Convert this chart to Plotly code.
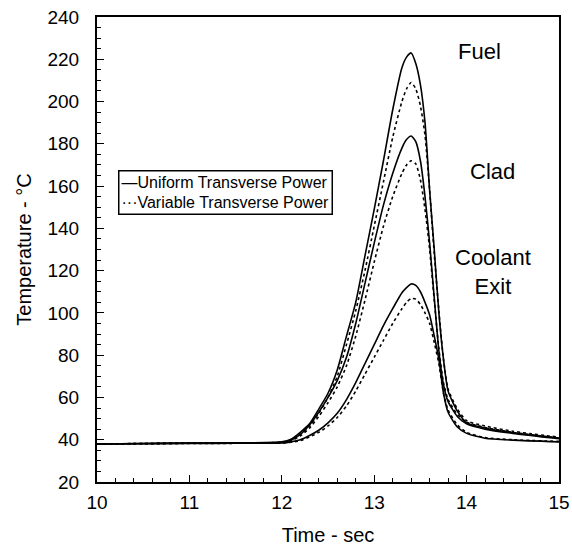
import plotly.graph_objects as go

time = [10.0, 10.5, 11.0, 11.5, 12.0, 12.1, 12.2, 12.3, 12.4, 12.5, 12.6, 12.7, 12.8, 12.9,
        13.0, 13.1, 13.2, 13.3, 13.35, 13.4, 13.45, 13.5, 13.55, 13.6, 13.65, 13.7, 13.75,
        13.8, 13.9, 14.0, 14.2, 14.5, 15.0]

fuel_uniform = [38.0, 38.2, 38.4, 38.5, 39.0, 40.2, 43.5, 47.5, 54.5, 62.0, 73.0, 89.0, 105.0, 127.0,
                149.0, 172.0, 196.0, 216.0, 221.0, 223.0, 218.0, 208.0, 190.0, 158.0, 130.0, 100.0, 78.0,
                63.0, 53.5, 48.0, 45.5, 43.3, 40.8]
fuel_variable = [38.0, 38.2, 38.4, 38.5, 38.8, 39.8, 42.5, 46.5, 52.5, 60.0, 70.0, 85.0, 101.0, 120.0,
                 141.0, 162.0, 183.0, 200.0, 206.0, 209.0, 206.0, 198.0, 184.0, 158.0, 128.0, 101.0, 78.0,
                 64.0, 54.5, 49.0, 46.5, 44.0, 41.2]
clad_uniform = [38.0, 38.2, 38.4, 38.5, 38.8, 39.8, 42.5, 47.0, 53.0, 60.0, 68.0, 79.0, 95.0, 114.0,
                133.0, 151.0, 166.0, 178.0, 182.0, 183.7, 181.0, 172.0, 155.0, 133.0, 107.0, 82.0, 66.0,
                58.0, 51.0, 47.5, 45.0, 43.0, 40.5]
clad_variable = [38.0, 38.2, 38.4, 38.5, 38.7, 39.5, 41.8, 45.5, 51.0, 57.5, 65.0, 75.0, 89.0, 106.0,
                 124.0, 141.0, 155.0, 166.0, 170.0, 172.0, 170.5, 163.0, 149.0, 130.0, 106.0, 83.0, 67.0,
                 59.0, 52.0, 48.3, 45.8, 43.5, 40.8]
coolant_uniform = [38.0, 38.1, 38.2, 38.3, 38.5, 39.0, 40.0, 42.0, 44.5, 48.0, 52.5, 59.0, 67.0, 76.0,
                   85.0, 94.0, 102.0, 109.5, 112.0, 113.7, 113.0, 110.0, 105.0, 99.0, 89.0, 78.0, 62.0,
                   53.0, 46.0, 43.0, 40.7, 39.8, 39.0]
coolant_variable = [38.0, 38.1, 38.2, 38.3, 38.4, 38.8, 39.6, 41.3, 43.5, 46.5, 50.5, 56.0, 63.0, 71.0,
                    79.0, 87.0, 95.0, 102.0, 105.0, 106.8, 106.5, 104.0, 100.0, 95.0, 86.0, 76.0, 62.0,
                    54.0, 47.0, 43.5, 41.0, 40.0, 39.2]

x_ticks = [10, 11, 12, 13, 14, 15]
y_ticks = [20, 40, 60, 80, 100, 120, 140, 160, 180, 200, 220, 240]

labels = [("Fuel", 14.14, 223.7), ("Clad", 14.28, 167.1), ("Coolant<br>Exit", 14.286, 119.5)]
legend_lines = ["—Uniform Transverse Power", "···Variable Transverse Power"]

FONT = "Liberation Sans, Arial, sans-serif"

fig = go.Figure()
series = [
    (fuel_uniform, "solid", "Fuel - Uniform Transverse Power"),
    (fuel_variable, "dot", "Fuel - Variable Transverse Power"),
    (clad_uniform, "solid", "Clad - Uniform Transverse Power"),
    (clad_variable, "dot", "Clad - Variable Transverse Power"),
    (coolant_uniform, "solid", "Coolant Exit - Uniform Transverse Power"),
    (coolant_variable, "dot", "Coolant Exit - Variable Transverse Power"),
]
for ys, dash, name in series:
    fig.add_trace(go.Scatter(
        x=time, y=ys, mode="lines", name=name, showlegend=False,
        line=dict(color="black", width=1.6, dash=dash, shape="spline", smoothing=0.6),
    ))

for text, tx, ty in labels:
    fig.add_annotation(x=tx, y=ty, text=text, showarrow=False,
                       font=dict(family=FONT, size=22, color="black"))

# legend box (drawn as bordered text, as in the original figure)
fig.add_annotation(
    xref="paper", yref="paper", x=0.045, y=0.672, xanchor="left", yanchor="top",
    text="<br>".join(legend_lines), align="left", showarrow=False,
    font=dict(family=FONT, size=16, color="black"),
    bgcolor="white", bordercolor="black", borderwidth=1.5, borderpad=2,
)

axis_common = dict(
    showgrid=False, zeroline=False, showline=True, linecolor="black", linewidth=2,
    mirror=True, ticks="inside", tickcolor="black", ticklen=7, tickwidth=1,
    tickfont=dict(family=FONT, size=19, color="black"), automargin=False,
)

fig.update_xaxes(
    range=[10, 15], tickvals=x_ticks, ticklabelstandoff=2,
    title=dict(text="Time - sec", font=dict(family=FONT, size=20, color="black"), standoff=16),
    minor=dict(dtick=0.2, ticks="inside", ticklen=4, tickcolor="black"),
    **axis_common,
)
fig.update_yaxes(
    range=[20, 240], tickvals=y_ticks, ticklabelstandoff=12,
    title=dict(text="Temperature - °C", font=dict(family=FONT, size=20, color="black"), standoff=10),
    minor=dict(dtick=5, ticks="inside", ticklen=4, tickcolor="black"),
    **axis_common,
)

fig.update_layout(
    width=572, height=555,
    margin=dict(l=97, r=13, t=17, b=73),
    paper_bgcolor="white", plot_bgcolor="white",
    font=dict(family=FONT, color="black"),
    showlegend=False,
)

fig.write_html("out.html")
